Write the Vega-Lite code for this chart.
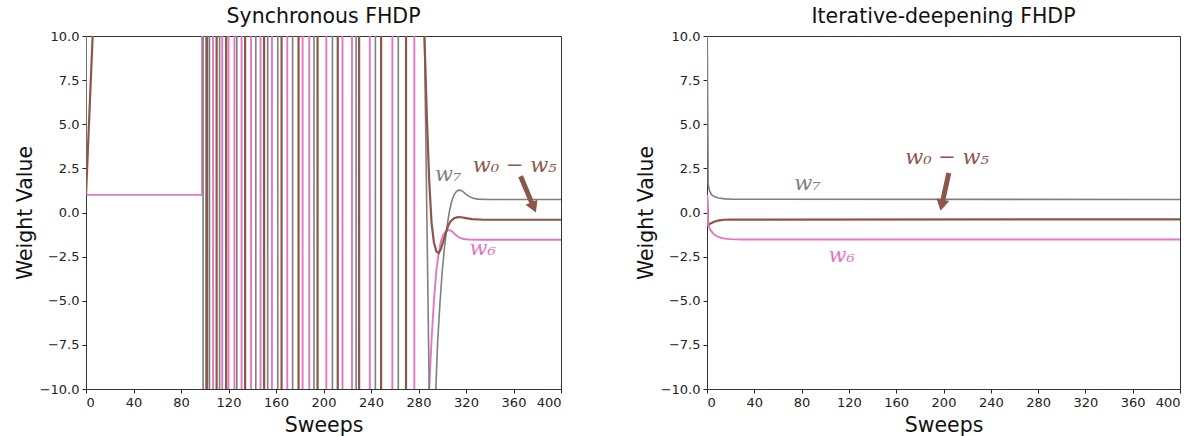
{
  "$schema": "https://vega.github.io/schema/vega-lite/v6.json",
  "background": "white",
  "padding": {"left": 14, "top": 6, "right": 5, "bottom": 0},
  "spacing": 73,
  "config": {
    "view": {"stroke": "#333333", "strokeWidth": 1},
    "axis": {"grid": false, "domain": false, "tickColor": "#222222", "tickSize": 4, "labelFont": "DejaVu Sans", "labelFontSize": 13, "labelColor": "#222222", "labelPadding": 3, "titleFont": "DejaVu Sans", "titleFontSize": 20.5, "titleFontWeight": "normal", "titleColor": "#111111"},
    "title": {"font": "DejaVu Sans", "fontSize": 20.5, "fontWeight": "normal", "color": "#111111", "offset": 3}
  },
  "datasets": {
    "sync": [
      {"series": "w6", "sweep": 0, "value": 1}, {"series": "w6", "sweep": 97.7, "value": 1}, {"series": "w6", "sweep": 98.3, "value": 1000},
      {"series": "w6", "sweep": 106.8, "value": 1000}, {"series": "w6", "sweep": 107.2, "value": -1000},
      {"series": "w6", "sweep": 114.5, "value": -1000}, {"series": "w6", "sweep": 114.9, "value": 1000},
      {"series": "w6", "sweep": 119.8, "value": 1000}, {"series": "w6", "sweep": 120.2, "value": -1000},
      {"series": "w6", "sweep": 124.8, "value": -1000}, {"series": "w6", "sweep": 125.2, "value": 1000},
      {"series": "w6", "sweep": 130.8, "value": 1000}, {"series": "w6", "sweep": 131.2, "value": -1000},
      {"series": "w6", "sweep": 138.8, "value": -1000}, {"series": "w6", "sweep": 139.2, "value": 1000},
      {"series": "w6", "sweep": 146.8, "value": 1000}, {"series": "w6", "sweep": 147.2, "value": -1000},
      {"series": "w6", "sweep": 156.4, "value": -1000}, {"series": "w6", "sweep": 156.8, "value": 1000},
      {"series": "w6", "sweep": 169.3, "value": 1000}, {"series": "w6", "sweep": 169.7, "value": -1000},
      {"series": "w6", "sweep": 182.2, "value": -1000}, {"series": "w6", "sweep": 182.6, "value": 1000},
      {"series": "w6", "sweep": 187.8, "value": 1000}, {"series": "w6", "sweep": 188.2, "value": -1000},
      {"series": "w6", "sweep": 202.2, "value": -1000}, {"series": "w6", "sweep": 202.6, "value": 1000},
      {"series": "w6", "sweep": 215.8, "value": 1000}, {"series": "w6", "sweep": 216.2, "value": -1000},
      {"series": "w6", "sweep": 223.8, "value": -1000}, {"series": "w6", "sweep": 224.2, "value": 1000},
      {"series": "w6", "sweep": 238.8, "value": 1000}, {"series": "w6", "sweep": 239.2, "value": -1000},
      {"series": "w6", "sweep": 257.8, "value": -1000}, {"series": "w6", "sweep": 258.2, "value": 1000},
      {"series": "w6", "sweep": 276.3, "value": 1000}, {"series": "w6", "sweep": 276.7, "value": -1000},
      {"series": "w6", "sweep": 288.8, "value": -1000}, {"series": "w6", "sweep": 289, "value": -10},
      {"series": "w6", "sweep": 291, "value": -7.2}, {"series": "w6", "sweep": 293, "value": -5},
      {"series": "w6", "sweep": 295, "value": -3.3}, {"series": "w6", "sweep": 297, "value": -2.3},
      {"series": "w6", "sweep": 299, "value": -1.6}, {"series": "w6", "sweep": 301, "value": -1.25},
      {"series": "w6", "sweep": 303, "value": -1.08}, {"series": "w6", "sweep": 305, "value": -1.0},
      {"series": "w6", "sweep": 307, "value": -1.02}, {"series": "w6", "sweep": 309, "value": -1.12},
      {"series": "w6", "sweep": 311, "value": -1.25}, {"series": "w6", "sweep": 313, "value": -1.36},
      {"series": "w6", "sweep": 315, "value": -1.44}, {"series": "w6", "sweep": 318, "value": -1.5},
      {"series": "w6", "sweep": 322, "value": -1.53}, {"series": "w6", "sweep": 330, "value": -1.54},
      {"series": "w6", "sweep": 400, "value": -1.54},

      {"series": "w7", "sweep": 0, "value": 1}, {"series": "w7", "sweep": 0.6, "value": 1000},
      {"series": "w7", "sweep": 98.4, "value": 1000}, {"series": "w7", "sweep": 98.8, "value": -1000},
      {"series": "w7", "sweep": 100.8, "value": -1000}, {"series": "w7", "sweep": 101.2, "value": 1000},
      {"series": "w7", "sweep": 103.8, "value": 1000}, {"series": "w7", "sweep": 104.2, "value": -1000},
      {"series": "w7", "sweep": 112.3, "value": -1000}, {"series": "w7", "sweep": 112.7, "value": 1000},
      {"series": "w7", "sweep": 126.8, "value": 1000}, {"series": "w7", "sweep": 127.2, "value": -1000},
      {"series": "w7", "sweep": 142.8, "value": -1000}, {"series": "w7", "sweep": 143.2, "value": 1000},
      {"series": "w7", "sweep": 152.8, "value": 1000}, {"series": "w7", "sweep": 153.2, "value": -1000},
      {"series": "w7", "sweep": 161.3, "value": -1000}, {"series": "w7", "sweep": 161.7, "value": 1000},
      {"series": "w7", "sweep": 173.8, "value": 1000}, {"series": "w7", "sweep": 174.2, "value": -1000},
      {"series": "w7", "sweep": 191.8, "value": -1000}, {"series": "w7", "sweep": 192.2, "value": 1000},
      {"series": "w7", "sweep": 207.3, "value": 1000}, {"series": "w7", "sweep": 207.7, "value": -1000},
      {"series": "w7", "sweep": 227.3, "value": -1000}, {"series": "w7", "sweep": 227.7, "value": 1000},
      {"series": "w7", "sweep": 243.5, "value": 1000}, {"series": "w7", "sweep": 243.9, "value": -1000},
      {"series": "w7", "sweep": 262.8, "value": -1000}, {"series": "w7", "sweep": 263.2, "value": 1000},
      {"series": "w7", "sweep": 284.9, "value": 1000}, {"series": "w7", "sweep": 285, "value": 10},
      {"series": "w7", "sweep": 289, "value": -10}, {"series": "w7", "sweep": 291.5, "value": -40},
      {"series": "w7", "sweep": 294.6, "value": -10}, {"series": "w7", "sweep": 296, "value": -7.5},
      {"series": "w7", "sweep": 298, "value": -5.2}, {"series": "w7", "sweep": 300, "value": -3.3},
      {"series": "w7", "sweep": 302, "value": -1.9}, {"series": "w7", "sweep": 304, "value": -0.8},
      {"series": "w7", "sweep": 306, "value": 0.05}, {"series": "w7", "sweep": 308, "value": 0.65},
      {"series": "w7", "sweep": 310, "value": 1.0}, {"series": "w7", "sweep": 312, "value": 1.2},
      {"series": "w7", "sweep": 314, "value": 1.27}, {"series": "w7", "sweep": 316, "value": 1.25},
      {"series": "w7", "sweep": 318, "value": 1.15}, {"series": "w7", "sweep": 320, "value": 1.03},
      {"series": "w7", "sweep": 323, "value": 0.9}, {"series": "w7", "sweep": 326, "value": 0.81},
      {"series": "w7", "sweep": 330, "value": 0.76}, {"series": "w7", "sweep": 340, "value": 0.74},
      {"series": "w7", "sweep": 400, "value": 0.74},

      {"series": "w0-w5", "sweep": 0, "value": 1}, {"series": "w0-w5", "sweep": 5.6, "value": 10}, {"series": "w0-w5", "sweep": 6.5, "value": 1000},
      {"series": "w0-w5", "sweep": 101.8, "value": 1000}, {"series": "w0-w5", "sweep": 102.2, "value": -1000},
      {"series": "w0-w5", "sweep": 109.8, "value": -1000}, {"series": "w0-w5", "sweep": 110.2, "value": 1000},
      {"series": "w0-w5", "sweep": 117.8, "value": 1000}, {"series": "w0-w5", "sweep": 118.2, "value": -1000},
      {"series": "w0-w5", "sweep": 133.8, "value": -1000}, {"series": "w0-w5", "sweep": 134.2, "value": 1000},
      {"series": "w0-w5", "sweep": 149.8, "value": 1000}, {"series": "w0-w5", "sweep": 150.2, "value": -1000},
      {"series": "w0-w5", "sweep": 164.5, "value": -1000}, {"series": "w0-w5", "sweep": 164.9, "value": 1000},
      {"series": "w0-w5", "sweep": 178.8, "value": 1000}, {"series": "w0-w5", "sweep": 179.2, "value": -1000},
      {"series": "w0-w5", "sweep": 194.8, "value": -1000}, {"series": "w0-w5", "sweep": 195.2, "value": 1000},
      {"series": "w0-w5", "sweep": 211.8, "value": 1000}, {"series": "w0-w5", "sweep": 212.2, "value": -1000},
      {"series": "w0-w5", "sweep": 229.8, "value": -1000}, {"series": "w0-w5", "sweep": 230.2, "value": 1000},
      {"series": "w0-w5", "sweep": 248.3, "value": 1000}, {"series": "w0-w5", "sweep": 248.7, "value": -1000},
      {"series": "w0-w5", "sweep": 269.3, "value": -1000}, {"series": "w0-w5", "sweep": 269.7, "value": 1000},
      {"series": "w0-w5", "sweep": 284.7, "value": 1000}, {"series": "w0-w5", "sweep": 285, "value": 10},
      {"series": "w0-w5", "sweep": 287, "value": 5.5}, {"series": "w0-w5", "sweep": 289, "value": 1.8},
      {"series": "w0-w5", "sweep": 291, "value": -0.6}, {"series": "w0-w5", "sweep": 293, "value": -1.7},
      {"series": "w0-w5", "sweep": 295, "value": -2.2}, {"series": "w0-w5", "sweep": 297, "value": -2.3},
      {"series": "w0-w5", "sweep": 299, "value": -2.05}, {"series": "w0-w5", "sweep": 301, "value": -1.6},
      {"series": "w0-w5", "sweep": 303, "value": -1.15}, {"series": "w0-w5", "sweep": 305, "value": -0.75},
      {"series": "w0-w5", "sweep": 307, "value": -0.5}, {"series": "w0-w5", "sweep": 310, "value": -0.32},
      {"series": "w0-w5", "sweep": 313, "value": -0.26}, {"series": "w0-w5", "sweep": 316, "value": -0.27},
      {"series": "w0-w5", "sweep": 320, "value": -0.32}, {"series": "w0-w5", "sweep": 325, "value": -0.38},
      {"series": "w0-w5", "sweep": 335, "value": -0.41}, {"series": "w0-w5", "sweep": 400, "value": -0.41}
    ],
    "iter": [
      {"series": "w7", "sweep": 0, "value": 12}, {"series": "w7", "sweep": 1, "value": 1.6},
      {"series": "w7", "sweep": 2, "value": 1.25}, {"series": "w7", "sweep": 4, "value": 1.0},
      {"series": "w7", "sweep": 7, "value": 0.88}, {"series": "w7", "sweep": 10, "value": 0.82},
      {"series": "w7", "sweep": 15, "value": 0.77}, {"series": "w7", "sweep": 22, "value": 0.75},
      {"series": "w7", "sweep": 400, "value": 0.74},
      {"series": "w0-w5", "sweep": 0, "value": 1.0}, {"series": "w0-w5", "sweep": 1, "value": -0.72},
      {"series": "w0-w5", "sweep": 3, "value": -0.62}, {"series": "w0-w5", "sweep": 6, "value": -0.52},
      {"series": "w0-w5", "sweep": 10, "value": -0.45}, {"series": "w0-w5", "sweep": 15, "value": -0.41},
      {"series": "w0-w5", "sweep": 20, "value": -0.4}, {"series": "w0-w5", "sweep": 400, "value": -0.39},
      {"series": "w6", "sweep": 0, "value": 1.0}, {"series": "w6", "sweep": 1, "value": -0.7},
      {"series": "w6", "sweep": 3, "value": -1.0}, {"series": "w6", "sweep": 6, "value": -1.25},
      {"series": "w6", "sweep": 10, "value": -1.4}, {"series": "w6", "sweep": 15, "value": -1.48},
      {"series": "w6", "sweep": 20, "value": -1.51}, {"series": "w6", "sweep": 30, "value": -1.53},
      {"series": "w6", "sweep": 400, "value": -1.53}
    ],
    "labels_sync": [
      {"label": "w₇", "series": "w7", "sweep": 305, "value": 2.15},
      {"label": "w₀ − w₅", "series": "w0-w5", "sweep": 361, "value": 2.62},
      {"label": "w₆", "series": "w6", "sweep": 334, "value": -2.09}
    ],
    "labels_iter": [
      {"label": "w₇", "series": "w7", "sweep": 85, "value": 1.62},
      {"label": "w₀ − w₅", "series": "w0-w5", "sweep": 203, "value": 3.09},
      {"label": "w₆", "series": "w6", "sweep": 114, "value": -2.47}
    ],
    "arrow_sync": [{"sweep": 366, "value": 2.05, "sweep2": 377, "value2": 0.29}],
    "arrow_iter": [{"sweep": 204.5, "value": 2.24, "sweep2": 198.5, "value2": 0.41}]
  },
  "hconcat": [
    {
      "width": 475, "height": 353,
      "title": "Synchronous FHDP",
      "layer": [
        {
          "data": {"name": "sync"},
          "mark": {"type": "line", "clip": true},
          "encoding": {
            "x": {"field": "sweep", "type": "quantitative", "scale": {"domain": [0, 400], "nice": false}, "axis": {"title": "Sweeps", "values": [0, 40, 80, 120, 160, 200, 240, 280, 320, 360, 400], "titlePadding": 6}},
            "y": {"field": "value", "type": "quantitative", "scale": {"domain": [-10, 10], "nice": false}, "axis": {"title": "Weight Value", "values": [-10, -7.5, -5, -2.5, 0, 2.5, 5, 7.5, 10], "format": ".1f", "titlePadding": 4}},
            "color": {"field": "series", "type": "nominal", "scale": {"domain": ["w0-w5", "w6", "w7"], "range": ["#8c564b", "#e377c2", "#7f7f7f"]}, "legend": null},
            "strokeWidth": {"field": "series", "type": "nominal", "scale": {"domain": ["w0-w5", "w6", "w7"], "range": [2.2, 1.6, 1.6]}, "legend": null}
          }
        },
        {
          "data": {"name": "arrow_sync"},
          "mark": {"type": "rule", "color": "#8c564b", "strokeWidth": 5},
          "encoding": {"x": {"field": "sweep", "type": "quantitative"}, "y": {"field": "value", "type": "quantitative"}, "x2": {"field": "sweep2"}, "y2": {"field": "value2"}}
        },
        {
          "data": {"name": "arrow_sync"},
          "mark": {"type": "point", "shape": "triangle-down", "filled": true, "color": "#8c564b", "size": 170, "angle": 337, "opacity": 1},
          "encoding": {"x": {"field": "sweep2", "type": "quantitative"}, "y": {"field": "value2", "type": "quantitative"}}
        },
        {
          "data": {"name": "labels_sync"},
          "mark": {"type": "text", "font": "DejaVu Serif", "fontStyle": "italic", "fontSize": 21},
          "encoding": {
            "x": {"field": "sweep", "type": "quantitative"},
            "y": {"field": "value", "type": "quantitative"},
            "text": {"field": "label"},
            "color": {"field": "series", "type": "nominal", "legend": null}
          }
        }
      ]
    },
    {
      "width": 473, "height": 353,
      "title": "Iterative-deepening FHDP",
      "layer": [
        {
          "data": {"name": "iter"},
          "mark": {"type": "line", "clip": true},
          "encoding": {
            "x": {"field": "sweep", "type": "quantitative", "scale": {"domain": [0, 400], "nice": false}, "axis": {"title": "Sweeps", "values": [0, 40, 80, 120, 160, 200, 240, 280, 320, 360, 400], "titlePadding": 6}},
            "y": {"field": "value", "type": "quantitative", "scale": {"domain": [-10, 10], "nice": false}, "axis": {"title": "Weight Value", "values": [-10, -7.5, -5, -2.5, 0, 2.5, 5, 7.5, 10], "format": ".1f", "titlePadding": 4}},
            "color": {"field": "series", "type": "nominal", "scale": {"domain": ["w0-w5", "w6", "w7"], "range": ["#8c564b", "#e377c2", "#7f7f7f"]}, "legend": null},
            "strokeWidth": {"field": "series", "type": "nominal", "scale": {"domain": ["w0-w5", "w6", "w7"], "range": [2.2, 1.6, 1.6]}, "legend": null}
          }
        },
        {
          "data": {"name": "arrow_iter"},
          "mark": {"type": "rule", "color": "#8c564b", "strokeWidth": 5},
          "encoding": {"x": {"field": "sweep", "type": "quantitative"}, "y": {"field": "value", "type": "quantitative"}, "x2": {"field": "sweep2"}, "y2": {"field": "value2"}}
        },
        {
          "data": {"name": "arrow_iter"},
          "mark": {"type": "point", "shape": "triangle-down", "filled": true, "color": "#8c564b", "size": 170, "angle": 12, "opacity": 1},
          "encoding": {"x": {"field": "sweep2", "type": "quantitative"}, "y": {"field": "value2", "type": "quantitative"}}
        },
        {
          "data": {"name": "labels_iter"},
          "mark": {"type": "text", "font": "DejaVu Serif", "fontStyle": "italic", "fontSize": 21},
          "encoding": {
            "x": {"field": "sweep", "type": "quantitative"},
            "y": {"field": "value", "type": "quantitative"},
            "text": {"field": "label"},
            "color": {"field": "series", "type": "nominal", "legend": null}
          }
        }
      ]
    }
  ]
}
